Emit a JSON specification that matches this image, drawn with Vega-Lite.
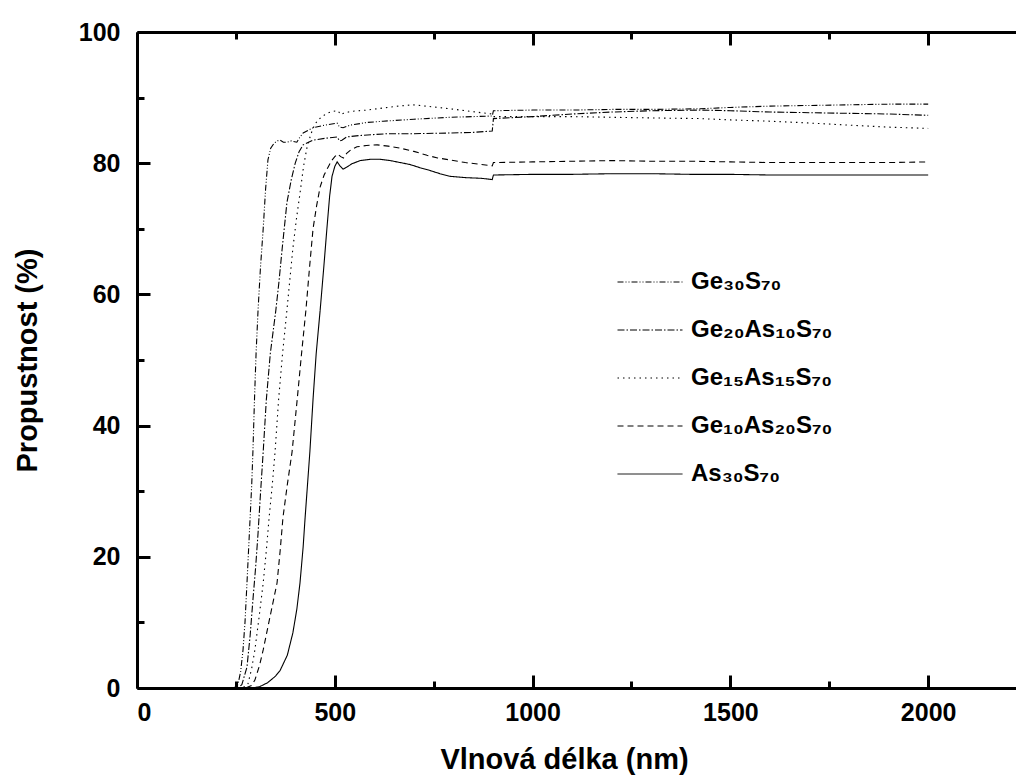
{
  "$schema": "https://vega.github.io/schema/vega-lite/v6.json",
  "width": 879,
  "height": 656,
  "autosize": {"type": "none"},
  "padding": {"left": 137, "top": 32, "right": 0, "bottom": 88},
  "config": {
    "view": {"stroke": null},
    "font": "Liberation Sans",
    "axis": {
      "domainColor": "black", "domainWidth": 3, "tickColor": "black", "tickWidth": 3,
      "labelColor": "black", "labelFont": "Liberation Sans", "labelFontWeight": "bold", "labelFontSize": 25,
      "titleColor": "black", "titleFont": "Liberation Sans", "titleFontWeight": "bold", "titleFontSize": 29,
      "grid": false
    }
  },
  "data": {"values": [
    {"s":"As30S70","nm":200,"T":0},{"s":"As30S70","nm":290,"T":0},{"s":"As30S70","nm":310,"T":0.2},{"s":"As30S70","nm":330,"T":0.8},{"s":"As30S70","nm":350,"T":1.8},{"s":"As30S70","nm":362,"T":2.7},{"s":"As30S70","nm":380,"T":5},{"s":"As30S70","nm":394,"T":8.4},{"s":"As30S70","nm":404,"T":12},{"s":"As30S70","nm":412,"T":16},{"s":"As30S70","nm":420,"T":21.5},{"s":"As30S70","nm":425,"T":26},{"s":"As30S70","nm":431,"T":31},{"s":"As30S70","nm":437,"T":36},{"s":"As30S70","nm":445,"T":44},{"s":"As30S70","nm":453,"T":51},{"s":"As30S70","nm":463,"T":57.6},{"s":"As30S70","nm":472,"T":64},{"s":"As30S70","nm":480,"T":70},{"s":"As30S70","nm":487,"T":75},{"s":"As30S70","nm":493,"T":78},{"s":"As30S70","nm":500,"T":79.5},{"s":"As30S70","nm":506,"T":80.2},{"s":"As30S70","nm":513,"T":79.6},{"s":"As30S70","nm":521,"T":79.1},{"s":"As30S70","nm":530,"T":79.4},{"s":"As30S70","nm":543,"T":79.9},{"s":"As30S70","nm":564,"T":80.4},{"s":"As30S70","nm":590,"T":80.6},{"s":"As30S70","nm":614,"T":80.6},{"s":"As30S70","nm":640,"T":80.4},{"s":"As30S70","nm":665,"T":80.1},{"s":"As30S70","nm":690,"T":79.8},{"s":"As30S70","nm":716,"T":79.3},{"s":"As30S70","nm":740,"T":78.9},{"s":"As30S70","nm":766,"T":78.4},{"s":"As30S70","nm":791,"T":78.0},{"s":"As30S70","nm":830,"T":77.8},{"s":"As30S70","nm":870,"T":77.7},{"s":"As30S70","nm":898,"T":77.5},{"s":"As30S70","nm":901,"T":78.2},{"s":"As30S70","nm":1000,"T":78.3},{"s":"As30S70","nm":1100,"T":78.3},{"s":"As30S70","nm":1200,"T":78.4},{"s":"As30S70","nm":1300,"T":78.4},{"s":"As30S70","nm":1400,"T":78.3},{"s":"As30S70","nm":1500,"T":78.3},{"s":"As30S70","nm":1600,"T":78.2},{"s":"As30S70","nm":1700,"T":78.2},{"s":"As30S70","nm":1800,"T":78.2},{"s":"As30S70","nm":1900,"T":78.2},{"s":"As30S70","nm":2000,"T":78.2},

    {"s":"Ge10As20S70","nm":200,"T":0},{"s":"Ge10As20S70","nm":275,"T":0},{"s":"Ge10As20S70","nm":290,"T":0.4},{"s":"Ge10As20S70","nm":298,"T":1.2},{"s":"Ge10As20S70","nm":310,"T":3.5},{"s":"Ge10As20S70","nm":319,"T":5.8},{"s":"Ge10As20S70","nm":335,"T":10.5},{"s":"Ge10As20S70","nm":354,"T":16},{"s":"Ge10As20S70","nm":362,"T":21},{"s":"Ge10As20S70","nm":369,"T":26},{"s":"Ge10As20S70","nm":380,"T":31},{"s":"Ge10As20S70","nm":392,"T":36},{"s":"Ge10As20S70","nm":405,"T":44},{"s":"Ge10As20S70","nm":416,"T":51},{"s":"Ge10As20S70","nm":427,"T":57.6},{"s":"Ge10As20S70","nm":436,"T":64},{"s":"Ge10As20S70","nm":445,"T":70},{"s":"Ge10As20S70","nm":454,"T":73.5},{"s":"Ge10As20S70","nm":463,"T":76.4},{"s":"Ge10As20S70","nm":473,"T":78.2},{"s":"Ge10As20S70","nm":483,"T":79.4},{"s":"Ge10As20S70","nm":492,"T":80.4},{"s":"Ge10As20S70","nm":500,"T":81},{"s":"Ge10As20S70","nm":507,"T":81.4},{"s":"Ge10As20S70","nm":515,"T":81},{"s":"Ge10As20S70","nm":522,"T":80.8},{"s":"Ge10As20S70","nm":530,"T":81.5},{"s":"Ge10As20S70","nm":540,"T":82},{"s":"Ge10As20S70","nm":556,"T":82.5},{"s":"Ge10As20S70","nm":580,"T":82.7},{"s":"Ge10As20S70","nm":607,"T":82.8},{"s":"Ge10As20S70","nm":635,"T":82.6},{"s":"Ge10As20S70","nm":665,"T":82.3},{"s":"Ge10As20S70","nm":700,"T":81.8},{"s":"Ge10As20S70","nm":733,"T":81.2},{"s":"Ge10As20S70","nm":760,"T":80.8},{"s":"Ge10As20S70","nm":791,"T":80.5},{"s":"Ge10As20S70","nm":830,"T":80.1},{"s":"Ge10As20S70","nm":870,"T":79.8},{"s":"Ge10As20S70","nm":898,"T":79.6},{"s":"Ge10As20S70","nm":901,"T":80.1},{"s":"Ge10As20S70","nm":1000,"T":80.2},{"s":"Ge10As20S70","nm":1100,"T":80.3},{"s":"Ge10As20S70","nm":1200,"T":80.4},{"s":"Ge10As20S70","nm":1300,"T":80.3},{"s":"Ge10As20S70","nm":1400,"T":80.3},{"s":"Ge10As20S70","nm":1500,"T":80.2},{"s":"Ge10As20S70","nm":1600,"T":80.1},{"s":"Ge10As20S70","nm":1700,"T":80.1},{"s":"Ge10As20S70","nm":1800,"T":80.1},{"s":"Ge10As20S70","nm":1900,"T":80.1},{"s":"Ge10As20S70","nm":2000,"T":80.2},

    {"s":"Ge15As15S70","nm":200,"T":0},{"s":"Ge15As15S70","nm":265,"T":0},{"s":"Ge15As15S70","nm":280,"T":0.5},{"s":"Ge15As15S70","nm":290,"T":3},{"s":"Ge15As15S70","nm":298,"T":5.8},{"s":"Ge15As15S70","nm":308,"T":10.5},{"s":"Ge15As15S70","nm":319,"T":16},{"s":"Ge15As15S70","nm":327,"T":21},{"s":"Ge15As15S70","nm":334,"T":26},{"s":"Ge15As15S70","nm":342,"T":31},{"s":"Ge15As15S70","nm":349,"T":36},{"s":"Ge15As15S70","nm":358,"T":44},{"s":"Ge15As15S70","nm":368,"T":51},{"s":"Ge15As15S70","nm":379,"T":57.6},{"s":"Ge15As15S70","nm":386,"T":62},{"s":"Ge15As15S70","nm":394,"T":67},{"s":"Ge15As15S70","nm":403,"T":71.5},{"s":"Ge15As15S70","nm":412,"T":75.4},{"s":"Ge15As15S70","nm":421,"T":79.5},{"s":"Ge15As15S70","nm":430,"T":82.5},{"s":"Ge15As15S70","nm":440,"T":84.5},{"s":"Ge15As15S70","nm":450,"T":86},{"s":"Ge15As15S70","nm":465,"T":87},{"s":"Ge15As15S70","nm":480,"T":87.6},{"s":"Ge15As15S70","nm":495,"T":87.9},{"s":"Ge15As15S70","nm":508,"T":88},{"s":"Ge15As15S70","nm":515,"T":87.4},{"s":"Ge15As15S70","nm":522,"T":87.6},{"s":"Ge15As15S70","nm":540,"T":87.9},{"s":"Ge15As15S70","nm":582,"T":88.1},{"s":"Ge15As15S70","nm":620,"T":88.4},{"s":"Ge15As15S70","nm":660,"T":88.7},{"s":"Ge15As15S70","nm":698,"T":88.9},{"s":"Ge15As15S70","nm":730,"T":88.7},{"s":"Ge15As15S70","nm":760,"T":88.5},{"s":"Ge15As15S70","nm":791,"T":88.3},{"s":"Ge15As15S70","nm":830,"T":88.0},{"s":"Ge15As15S70","nm":870,"T":87.7},{"s":"Ge15As15S70","nm":898,"T":87.5},{"s":"Ge15As15S70","nm":901,"T":87.1},{"s":"Ge15As15S70","nm":1000,"T":87.1},{"s":"Ge15As15S70","nm":1100,"T":87.1},{"s":"Ge15As15S70","nm":1200,"T":87.0},{"s":"Ge15As15S70","nm":1300,"T":86.9},{"s":"Ge15As15S70","nm":1424,"T":86.8},{"s":"Ge15As15S70","nm":1500,"T":86.6},{"s":"Ge15As15S70","nm":1600,"T":86.4},{"s":"Ge15As15S70","nm":1676,"T":86.2},{"s":"Ge15As15S70","nm":1800,"T":85.8},{"s":"Ge15As15S70","nm":1900,"T":85.5},{"s":"Ge15As15S70","nm":2000,"T":85.3},

    {"s":"Ge20As10S70","nm":200,"T":0},{"s":"Ge20As10S70","nm":255,"T":0},{"s":"Ge20As10S70","nm":265,"T":0.5},{"s":"Ge20As10S70","nm":278,"T":3.2},{"s":"Ge20As10S70","nm":286,"T":8},{"s":"Ge20As10S70","nm":293,"T":13.4},{"s":"Ge20As10S70","nm":300,"T":18.5},{"s":"Ge20As10S70","nm":306,"T":23.6},{"s":"Ge20As10S70","nm":312,"T":29.5},{"s":"Ge20As10S70","nm":319,"T":36},{"s":"Ge20As10S70","nm":327,"T":44},{"s":"Ge20As10S70","nm":337,"T":51},{"s":"Ge20As10S70","nm":351,"T":57.6},{"s":"Ge20As10S70","nm":359,"T":62},{"s":"Ge20As10S70","nm":367,"T":67},{"s":"Ge20As10S70","nm":379,"T":74},{"s":"Ge20As10S70","nm":390,"T":77.5},{"s":"Ge20As10S70","nm":400,"T":80},{"s":"Ge20As10S70","nm":410,"T":81.8},{"s":"Ge20As10S70","nm":420,"T":82.8},{"s":"Ge20As10S70","nm":445,"T":83.5},{"s":"Ge20As10S70","nm":475,"T":83.8},{"s":"Ge20As10S70","nm":506,"T":84},{"s":"Ge20As10S70","nm":512,"T":83.4},{"s":"Ge20As10S70","nm":518,"T":83.5},{"s":"Ge20As10S70","nm":530,"T":84},{"s":"Ge20As10S70","nm":560,"T":84.2},{"s":"Ge20As10S70","nm":632,"T":84.5},{"s":"Ge20As10S70","nm":700,"T":84.5},{"s":"Ge20As10S70","nm":791,"T":84.6},{"s":"Ge20As10S70","nm":850,"T":84.7},{"s":"Ge20As10S70","nm":898,"T":84.9},{"s":"Ge20As10S70","nm":901,"T":86.8},{"s":"Ge20As10S70","nm":1000,"T":87.1},{"s":"Ge20As10S70","nm":1100,"T":87.5},{"s":"Ge20As10S70","nm":1200,"T":87.8},{"s":"Ge20As10S70","nm":1300,"T":88.0},{"s":"Ge20As10S70","nm":1424,"T":88.1},{"s":"Ge20As10S70","nm":1500,"T":88.0},{"s":"Ge20As10S70","nm":1600,"T":87.8},{"s":"Ge20As10S70","nm":1700,"T":87.7},{"s":"Ge20As10S70","nm":1800,"T":87.6},{"s":"Ge20As10S70","nm":1900,"T":87.5},{"s":"Ge20As10S70","nm":2000,"T":87.3},

    {"s":"Ge30S70","nm":200,"T":0},{"s":"Ge30S70","nm":245,"T":0},{"s":"Ge30S70","nm":255,"T":0.5},{"s":"Ge30S70","nm":262,"T":2.5},{"s":"Ge30S70","nm":268,"T":5.8},{"s":"Ge30S70","nm":273,"T":10},{"s":"Ge30S70","nm":278,"T":16},{"s":"Ge30S70","nm":282,"T":21},{"s":"Ge30S70","nm":286,"T":26},{"s":"Ge30S70","nm":290,"T":31},{"s":"Ge30S70","nm":293,"T":36},{"s":"Ge30S70","nm":297,"T":44},{"s":"Ge30S70","nm":301,"T":51},{"s":"Ge30S70","nm":306,"T":57.6},{"s":"Ge30S70","nm":312,"T":64},{"s":"Ge30S70","nm":319,"T":70},{"s":"Ge30S70","nm":325,"T":76},{"s":"Ge30S70","nm":331,"T":80.5},{"s":"Ge30S70","nm":338,"T":82.3},{"s":"Ge30S70","nm":346,"T":83},{"s":"Ge30S70","nm":354,"T":83.4},{"s":"Ge30S70","nm":362,"T":83.5},{"s":"Ge30S70","nm":370,"T":83.2},{"s":"Ge30S70","nm":379,"T":83.2},{"s":"Ge30S70","nm":390,"T":83.4},{"s":"Ge30S70","nm":404,"T":83.2},{"s":"Ge30S70","nm":412,"T":84},{"s":"Ge30S70","nm":420,"T":84.6},{"s":"Ge30S70","nm":432,"T":85},{"s":"Ge30S70","nm":445,"T":85.4},{"s":"Ge30S70","nm":475,"T":85.8},{"s":"Ge30S70","nm":506,"T":86.1},{"s":"Ge30S70","nm":512,"T":85.5},{"s":"Ge30S70","nm":521,"T":85.4},{"s":"Ge30S70","nm":539,"T":85.8},{"s":"Ge30S70","nm":580,"T":86.2},{"s":"Ge30S70","nm":622,"T":86.4},{"s":"Ge30S70","nm":700,"T":86.7},{"s":"Ge30S70","nm":791,"T":87},{"s":"Ge30S70","nm":850,"T":87.1},{"s":"Ge30S70","nm":898,"T":87.2},{"s":"Ge30S70","nm":901,"T":88},{"s":"Ge30S70","nm":1000,"T":88.1},{"s":"Ge30S70","nm":1100,"T":88.1},{"s":"Ge30S70","nm":1200,"T":88.2},{"s":"Ge30S70","nm":1300,"T":88.2},{"s":"Ge30S70","nm":1424,"T":88.3},{"s":"Ge30S70","nm":1500,"T":88.5},{"s":"Ge30S70","nm":1600,"T":88.7},{"s":"Ge30S70","nm":1700,"T":88.8},{"s":"Ge30S70","nm":1800,"T":88.9},{"s":"Ge30S70","nm":1900,"T":89.0},{"s":"Ge30S70","nm":2000,"T":89.0}
  ]},
  "layer": [
    {
      "mark": {"type": "line", "color": "black", "strokeWidth": 1.1},
      "encoding": {
        "x": {"field": "nm", "type": "quantitative",
              "scale": {"domain": [0, 2222], "nice": false, "zero": false},
              "axis": {"orient": "bottom", "title": "Vlnová délka (nm)", "format": "d",
                       "domainWidth": 3, "tickWidth": 3,
                       "values": [0, 250, 500, 750, 1000, 1250, 1500, 1750, 2000],
                       "labelExpr": "datum.value % 500 === 0 ? datum.label : ''",
                       "tickSize": {"condition": {"test": "datum.value % 500 === 0", "value": -13}, "value": -7},
                       "labelPadding": 25, "titlePadding": 20, "titleX": 427, "titleAnchor": null}},
        "y": {"field": "T", "type": "quantitative",
              "scale": {"domain": [0, 100], "nice": false},
              "axis": {"orient": "left", "title": "Propustnost (%)",
                       "domainWidth": 3, "tickWidth": 3,
                       "values": [0, 10, 20, 30, 40, 50, 60, 70, 80, 90, 100],
                       "labelExpr": "datum.value % 20 === 0 ? datum.label : ''",
                       "tickSize": {"condition": {"test": "datum.value % 20 === 0", "value": -13}, "value": -7},
                       "labelPadding": 30, "titlePadding": 36}},
        "strokeDash": {"field": "s", "type": "nominal",
              "scale": {"domain": ["Ge30S70", "Ge20As10S70", "Ge15As15S70", "Ge10As20S70", "As30S70"],
                        "range": [[6, 2, 1, 2, 1, 2], [7, 2, 1.5, 2], [1.5, 4], [6, 4], [1, 0]]},
              "legend": {"orient": "none", "legendX": 480, "legendY": 217, "title": null,
                         "symbolType": "stroke", "symbolSize": 4225, "symbolStrokeColor": "black", "symbolStrokeWidth": 1,
                         "labelFont": "Liberation Sans", "labelFontWeight": "bold", "labelFontSize": 24, "labelColor": "black",
                         "labelOffset": 8, "rowPadding": 3, "labelLimit": 400,
                         "labelExpr": "{'Ge30S70':'Ge₃₀S₇₀','Ge20As10S70':'Ge₂₀As₁₀S₇₀','Ge15As15S70':'Ge₁₅As₁₅S₇₀','Ge10As20S70':'Ge₁₀As₂₀S₇₀','As30S70':'As₃₀S₇₀'}[datum.label]"}}
      }
    },
    {
      "mark": {"type": "point", "opacity": 0},
      "encoding": {
        "x": {"field": "nm", "type": "quantitative",
              "axis": {"orient": "top", "title": null, "labels": false,
                       "domainWidth": 3, "tickWidth": 3,
                       "values": [0, 250, 500, 750, 1000, 1250, 1500, 1750, 2000],
                       "tickSize": {"condition": {"test": "datum.value % 500 === 0", "value": -13}, "value": -7}}},
        "y": {"field": "T", "type": "quantitative"}
      }
    }
  ],
  "resolve": {"axis": {"x": "independent"}}
}
